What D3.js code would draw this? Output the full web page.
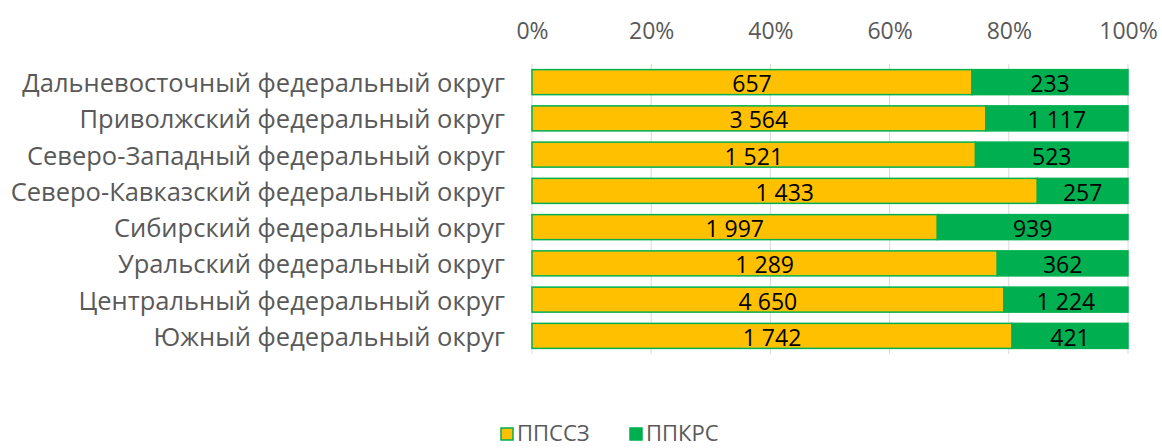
<!DOCTYPE html>
<html>
<head>
<meta charset="utf-8">
<script src="https://cdn.jsdelivr.net/npm/d3@7"></script>
<style>
  body { margin: 0; background: #fff; }
  svg text { font-family: "Open Sans", "Noto Sans", sans-serif; }
</style>
</head>
<body>
<svg id="chart" width="1162" height="448"></svg>
<script>
const categories = [
    "Дальневосточный федеральный округ",
    "Приволжский федеральный округ",
    "Северо-Западный федеральный округ",
    "Северо-Кавказский федеральный округ",
    "Сибирский федеральный округ",
    "Уральский федеральный округ",
    "Центральный федеральный округ",
    "Южный федеральный округ"
];
const ppssz = [657, 3564, 1521, 1433, 1997, 1289, 4650, 1742];
const ppkrs = [233, 1117, 523, 257, 939, 362, 1224, 421];
const seriesNames = ["ППССЗ", "ППКРС"];
const tickValues = [0, 0.2, 0.4, 0.6, 0.8, 1];

const colors = { ppssz: "#FFC000", ppkrs: "#00B050" };
const svg = d3.select("#chart");
const plotLeft = 532, plotRight = 1128, plotTop = 64, plotBottom = 354;

const x = d3.scaleLinear().domain([0, 1]).range([plotLeft, plotRight]);
const y = d3.scaleBand().domain(categories).range([plotTop, plotBottom]).paddingInner(0.31).paddingOuter(0.155);

const fmt = v => d3.format(",")(v).replace(/,/g, "\u00a0");

// gridlines
svg.append("g")
    .selectAll("line")
    .data(tickValues)
    .join("line")
    .attr("x1", d => x(d)).attr("x2", d => x(d))
    .attr("y1", plotTop).attr("y2", plotBottom)
    .attr("stroke", "#d9d9d9").attr("stroke-width", 1);

// top axis labels
const xAxis = d3.axisTop(x).tickValues(tickValues).tickFormat(d3.format(".0%")).tickSize(0).tickPadding(0);
const gx = svg.append("g").attr("transform", "translate(0,30)").call(xAxis);
gx.select(".domain").remove();
gx.selectAll("text")
    .attr("fill", "#595959").attr("font-size", "23px").attr("dy", null)
    .attr("y", 0).attr("dominant-baseline", "central");

// category labels
const yAxis = d3.axisLeft(y).tickSize(0).tickPadding(27);
const gy = svg.append("g").attr("transform", `translate(${plotLeft},0)`).call(yAxis);
gy.select(".domain").remove();
gy.selectAll("text").attr("fill", "#595959").attr("font-size", "25.5px")
    .attr("dy", null).attr("dominant-baseline", "central");

const rows = categories.map((c, i) => {
    const total = ppssz[i] + ppkrs[i];
    return { cat: c, a: ppssz[i], b: ppkrs[i], pa: ppssz[i] / total };
});

const bars = svg.append("g").selectAll("g").data(rows).join("g");

bars.append("rect")
    .attr("x", d => x(0)).attr("y", d => y(d.cat))
    .attr("width", d => x(d.pa) - x(0)).attr("height", y.bandwidth())
    .attr("fill", colors.ppssz).attr("stroke", colors.ppkrs).attr("stroke-width", 1.5);

bars.append("rect")
    .attr("x", d => x(d.pa)).attr("y", d => y(d.cat))
    .attr("width", d => x(1) - x(d.pa)).attr("height", y.bandwidth())
    .attr("fill", colors.ppkrs).attr("stroke", colors.ppkrs).attr("stroke-width", 1.5);

bars.append("text")
    .attr("x", d => (x(0) + x(d.pa)) / 2).attr("y", d => y(d.cat) + y.bandwidth() / 2 + 1)
    .attr("text-anchor", "middle").attr("dominant-baseline", "central")
    .attr("font-size", "23px").attr("fill", "#000")
    .text(d => fmt(d.a));

bars.append("text")
    .attr("x", d => (x(d.pa) + x(1)) / 2).attr("y", d => y(d.cat) + y.bandwidth() / 2 + 1)
    .attr("text-anchor", "middle").attr("dominant-baseline", "central")
    .attr("font-size", "23px").attr("fill", "#000")
    .text(d => fmt(d.b));

// legend
const legend = svg.append("g").attr("transform", "translate(501,428)");
const legendX = [0, 129];
seriesNames.forEach((name, i) => {
    const g = legend.append("g").attr("transform", `translate(${legendX[i]},0)`);
    g.append("rect").attr("width", 12).attr("height", 12)
        .attr("fill", i === 0 ? colors.ppssz : colors.ppkrs)
        .attr("stroke", colors.ppkrs).attr("stroke-width", 1.5);
    g.append("text").attr("x", 16).attr("y", 13)
        .attr("font-size", "22px").attr("fill", "#595959").text(name);
});
</script>
</body>
</html>
